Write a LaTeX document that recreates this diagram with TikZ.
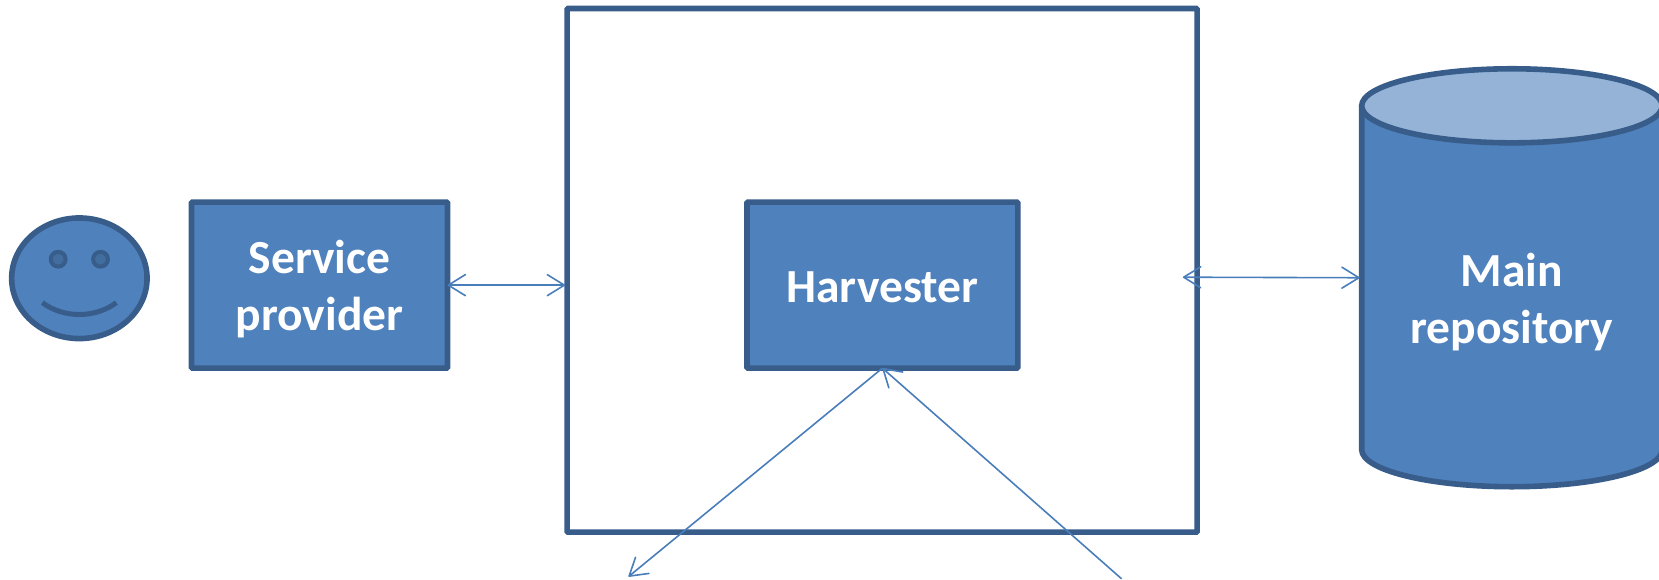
\documentclass[tikz,border=0pt]{standalone}
\usepackage{fontspec}
\setmainfont{Carlito}
\usetikzlibrary{arrows.meta,shapes.geometric}
\definecolor{fillblue}{HTML}{4F81BD}
\definecolor{edgeblue}{HTML}{385D8A}
\definecolor{lineblue}{HTML}{4A7EBB}
\definecolor{capblue}{HTML}{95B3D7}
\definecolor{eyeblue}{HTML}{416D9F}
\tikzset{
  panel/.style={draw=edgeblue,line width=5.6pt,rounded corners=1pt,outer sep=0pt,inner sep=0pt},
  bluetext/.style={text=white,align=center,font=\fontsize{47.5}{57}\selectfont\bfseries},
  bluebox/.style={panel,fill=fillblue,bluetext},
  link/.style={draw=lineblue,line width=1.6pt,-{Straight Barb[length=17pt,width=21pt,line width=1.6pt,round]}},
  dlink/.style={draw=lineblue,line width=1.6pt,shorten >=2pt,{Straight Barb[length=17pt,width=21pt,line width=1.6pt,round]}-{Straight Barb[length=17pt,width=21pt,line width=1.6pt,round]}}
}
\begin{document}
\begin{tikzpicture}[x=1.058pt,y=-1.058pt]
\useasboundingbox (0,0) rectangle (1568,548);
\node[panel,fill=white,minimum width=630pt,minimum height=523.7pt] (portal) at (833.75,255.5) {};
\node[bluebox,minimum width=256pt,minimum height=166pt] (sp) at (302,269.5) {\rule{0pt}{42pt}Service\\provider};
\node[bluebox,minimum width=270.8pt,minimum height=166pt] (harv) at (834,269.5) {\rule{0pt}{35pt}Harvester};
% smiley
\node[panel,fill=fillblue,ellipse,minimum width=135.4pt,minimum height=120.6pt] (face) at (75,263) {};
\fill[eyeblue,draw=edgeblue,line width=4pt] (55,245) circle[radius=7];
\fill[eyeblue,draw=edgeblue,line width=4pt] (95,245) circle[radius=7];
\draw[edgeblue,line width=5pt] (40,286) .. controls (60,301) and (90,301) .. (110,286);
% cylinder
\begin{scope}
\clip (0,0) rectangle (1568,548);
\draw[edgeblue,line width=5.6pt,fill=fillblue,line join=round] (1287,100) -- (1287,425) arc[start angle=180,end angle=360,x radius=142,y radius=-35] -- (1571,100) -- cycle;
\draw[edgeblue,line width=5.6pt,fill=capblue] (1429,100) ellipse[x radius=142,y radius=35];
\end{scope}
\node[minimum width=300.5pt,minimum height=418pt,inner sep=0pt,outer sep=0pt] (repo) at (1429,262.5) {};
\node[bluetext] (repolabel) at (1429,285.5) {Main\\repository};
% connectors
\coordinate (portalW) at (portal.west |- sp.east);
\coordinate (repoFree) at (1118,262);
\coordinate (downEnd) at (594,545);
\coordinate (upStart) at (1060,547);
\draw[dlink] (sp.east) -- (portalW);
\draw[dlink] (repoFree) -- (repo.west);
\draw[link] (harv.south) -- (downEnd);
\draw[link] (upStart) -- (harv.south);
\end{tikzpicture}
\end{document}
